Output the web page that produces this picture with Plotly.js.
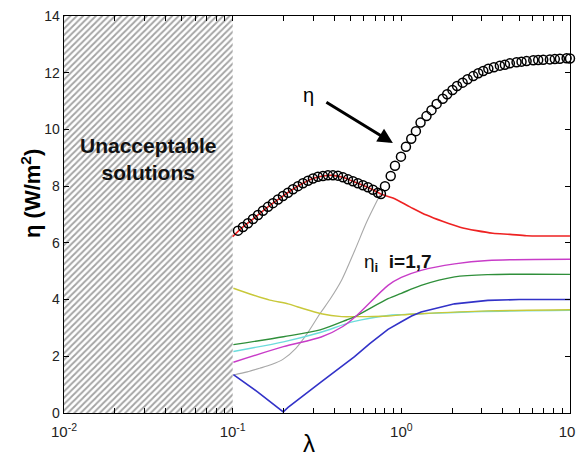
<!DOCTYPE html>
<html><head><meta charset="utf-8">
<script src="https://cdn.plot.ly/plotly-3.0.1.min.js"></script>
<style>html,body{margin:0;padding:0;background:#fff}#chart{width:576px;height:464px}</style>
</head><body><div id="chart"></div>
<script>
// Region of unacceptable solutions
const hatchX = [0.01, 0.1, 0.1, 0.01, 0.01];
const hatchY = [0, 0, 14, 14, 0];

// eta (total) - open circles
const etaX = [0.1075,0.1151,0.1232,0.1319,0.1413,0.1512,0.1619,0.1733,0.1855,0.1987,0.2127,0.2277,0.2438,0.2610,0.2795,0.2992,0.3203,0.3429,0.3671,0.3931,0.4208,0.4506,0.4824,0.5164,0.5529,0.5920,0.6338,0.6786,0.7265,0.757,
  0.80,0.865,0.917,0.995,1.065,1.145,1.22,1.30,1.41,1.51,1.62,1.76,1.87,2.01,2.14,2.31,2.47,2.67,2.86,3.06,3.28,3.54,3.84,4.11,4.40,4.82,5.16,5.53,6.06,6.48,6.94,7.60,8.13,8.71,9.55,10.0];
const etaY = [6.43,6.56,6.69,6.84,6.98,7.13,7.27,7.40,7.53,7.65,7.77,7.89,8.00,8.10,8.19,8.27,8.33,8.36,8.38,8.38,8.37,8.31,8.24,8.17,8.10,8.03,7.96,7.87,7.77,7.72,
  8.00,8.36,8.72,9.04,9.39,9.67,9.94,10.24,10.47,10.68,10.90,11.08,11.24,11.39,11.53,11.65,11.77,11.88,11.98,12.06,12.14,12.19,12.25,12.28,12.33,12.37,12.39,12.41,12.44,12.45,12.46,12.47,12.48,12.49,12.51,12.50];

// eta_i components
const redX = [0.1,0.1151,0.1319,0.1512,0.1733,0.1987,0.2277,0.2610,0.2992,0.3429,0.3931,0.4506,0.5164,0.5920,0.6786,0.757,0.892,1.125,1.41,1.77,2.23,2.79,3.49,4.40,5.53,7.0,10];
const redY = [6.22,6.56,6.84,7.13,7.40,7.65,7.89,8.10,8.27,8.36,8.38,8.31,8.17,8.03,7.87,7.72,7.58,7.27,6.98,6.75,6.55,6.43,6.34,6.30,6.25,6.24,6.24];

const grayX = [0.101,0.122,0.145,0.17,0.1995,0.237,0.275,0.329,0.377,0.443,0.531,0.625,0.752];
const grayY = [1.34,1.45,1.58,1.71,1.90,2.28,2.78,3.50,4.00,4.69,5.75,6.75,7.72];

const blueX = [0.101,0.141,0.1995,0.213,0.335,0.528,0.65,0.834,1.0,1.15,1.31,2.07,3.26,5.0,10];
const blueY = [1.35,0.74,0.04,0.20,1.10,1.99,2.45,2.95,3.22,3.42,3.56,3.85,3.97,4.00,4.00];

const yellowX = [0.101,0.132,0.166,0.213,0.25,0.335,0.443,0.54,0.62,0.834,1.0,1.31,3.26,10];
const yellowY = [4.40,4.16,3.98,3.85,3.72,3.50,3.40,3.40,3.40,3.42,3.46,3.50,3.60,3.64];

const greenX = [0.101,0.2,0.33,0.474,0.54,0.834,1.0,1.31,2.07,3.26,10];
const greenY = [2.41,2.69,2.93,3.28,3.42,4.03,4.22,4.50,4.80,4.88,4.89];

const cyanX = [0.101,0.2,0.33,0.519,0.834,1.0,1.31,3.0,10];
const cyanY = [2.17,2.51,2.84,3.22,3.44,3.47,3.50,3.58,3.62];

const magentaX = [0.101,0.2,0.335,0.45,0.54,0.834,1.0,1.31,2.07,3.26,10];
const magentaY = [1.79,2.34,2.68,3.05,3.42,4.50,4.78,5.03,5.26,5.38,5.42];

// axis ticks
const xTickVals = [0.01,0.02,0.03,0.04,0.05,0.06,0.07,0.08,0.09,0.1,0.2,0.3,0.4,0.5,0.6,0.7,0.8,0.9,1,2,3,4,5,6,7,8,9,10];
const xTickText = ['10<sup>-2</sup>','','','','','','','','','10<sup>-1</sup>','','','','','','','','','10<sup>0</sup>','','','','','','','','','10<sup>1</sup>'];
const yTickVals = [0,2,4,6,8,10,12,14];

function line(x, y, color, w, shape) {
  return {x: x, y: y, type: 'scatter', mode: 'lines',
          line: {color: color, width: w || 1.4, shape: shape || 'spline', smoothing: 0.8}, hoverinfo: 'skip'};
}

const traces = [
  {x: hatchX, y: hatchY, type: 'scatter', mode: 'lines', fill: 'toself', line: {width: 0, color: 'rgba(0,0,0,0)'},
   fillcolor: 'rgba(0,0,0,0)',
   fillpattern: {shape: '/', fgcolor: '#a3a3a3', bgcolor: '#ffffff', size: 4.5, solidity: 0.4}, hoverinfo: 'skip'},
  line(grayX, grayY, '#a8a8a8', 1.1),
  line(cyanX, cyanY, '#6cdcdc'),
  line(yellowX, yellowY, '#c8c83a'),
  line(greenX, greenY, '#2f8f3a'),
  line(magentaX, magentaY, '#c83cc8'),
  line(blueX, blueY, '#3232c8', 1.6, 'linear'),
  line(redX, redY, '#ee2222', 1.6),
  {x: etaX, y: etaY, type: 'scatter', mode: 'markers', cliponaxis: false,
   marker: {symbol: 'circle-open', size: 9, color: '#000', line: {color: '#000', width: 1.5}}, hoverinfo: 'skip'}
];

const font = 'Arial, "Liberation Sans", sans-serif';
const layout = {
  width: 576, height: 464,
  margin: {l: 64, r: 6, t: 16, b: 51},
  paper_bgcolor: '#fff', plot_bgcolor: '#fff',
  showlegend: false,
  font: {family: font, color: '#222', size: 14},
  xaxis: {type: 'log', range: [-2.0001, 1.0001], tickvals: xTickVals, ticktext: xTickText,
          ticks: 'inside', ticklen: 5, tickwidth: 1, tickcolor: '#000', ticklabelstandoff: 5,
          ticklabeloverflow: 'allow',
          showline: true, linecolor: '#000', linewidth: 1.3, mirror: 'ticks',
          showgrid: false, zeroline: false, tickfont: {size: 15, color: '#222', family: font}},
  yaxis: {range: [0, 14], tickvals: yTickVals,
          ticks: 'inside', ticklen: 5, tickwidth: 1, tickcolor: '#000', ticklabelstandoff: 0,
          showline: true, linecolor: '#000', linewidth: 1.3, mirror: 'ticks',
          showgrid: false, zeroline: false, tickfont: {size: 14, color: '#222', family: font}},
  annotations: [
    {xref: 'paper', yref: 'paper', x: -0.065, y: 0.552, xanchor: 'center', yanchor: 'middle',
     text: '<b>η (W/m<sup>2</sup>)</b>', textangle: -90,
     showarrow: false, font: {size: 22, color: '#000', family: font}},
    {xref: 'paper', yref: 'paper', x: 0.484, y: -0.076, xanchor: 'center', yanchor: 'middle',
     text: 'λ', showarrow: false, font: {size: 24, color: '#000', family: font}},
    {x: -1.502, y: 8.96, xanchor: 'center', yanchor: 'middle', text: '<b>Unacceptable<br>solutions</b>', showarrow: false,
     font: {size: 21, color: '#111', family: font}},
    {x: -0.548, y: 11.21, xanchor: 'center', yanchor: 'middle', text: 'η', showarrow: false,
     font: {size: 20, color: '#000', family: font}},
    {x: -0.05, y: 9.52, text: ' ', showarrow: true, ax: -70, ay: -43, arrowhead: 2, arrowsize: 1,
     arrowwidth: 3, arrowcolor: '#000', standoff: 0},
    {x: -0.018, y: 5.3, xanchor: 'center', yanchor: 'middle', text: 'η<sub><b>i</b></sub>  <b>i=1,7</b>', showarrow: false,
     font: {size: 19, color: '#111', family: font}}
  ]
};

Plotly.newPlot('chart', traces, layout, {staticPlot: true, displayModeBar: false});
</script></body></html>
